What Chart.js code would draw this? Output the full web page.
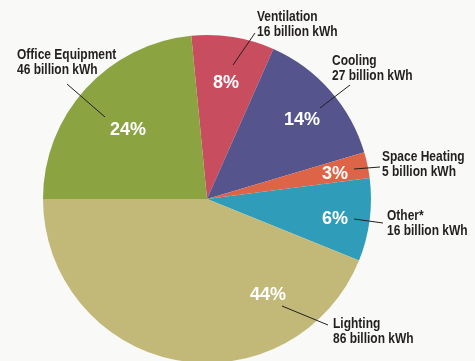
<!DOCTYPE html>
<html>
<head>
<meta charset="utf-8">
<script src="https://cdn.jsdelivr.net/npm/chart.js@4"></script>
<style>
    html, body { margin: 0; padding: 0; background: #f9f9f7; overflow: hidden; }
    #wrap { width: 475px; height: 370px; }
</style>
</head>
<body>
<div id="wrap"><canvas id="energyPie" width="475" height="370"></canvas></div>
<script>
// Office building electricity use by end use
const categories = ['Ventilation', 'Cooling', 'Space Heating', 'Other*', 'Lighting', 'Office Equipment'];
const usage = [16, 27, 5, 16, 86, 46]; // billion kWh
const shares = ['8%', '14%', '3%', '6%', '44%', '24%'];
const sliceColors = ['#c84e5f', '#55548c', '#de6448', '#2f9db9', '#c2b877', '#8ba341'];

// label placement, in px relative to the pie centre for a radius of 164
const shareOffsets = [[19, -117], [95, -80], [128, -26], [128, 19], [61, 95], [-79, -70]];
const leaderLines = [
    [[26, -134], [48, -166]],
    [[113, -91], [143, -114]],
    [[147, -30], [173, -32]],
    [[147, 20], [176, 24]],
    [[75, 107], [121, 126]],
    [[-140, -115], [-102, -82]],
];
const labelAnchors = [[50, -178], [125, -134], [175, -38], [180, 21], [126, 129], [-190, -140]];

const labelPlugin = {
    id: 'pieLabels',
    afterDatasetsDraw(chart) {
        const ctx = chart.ctx;
        const arc = chart.getDatasetMeta(0).data[0];
        const cx = arc.x, cy = arc.y;
        const k = arc.outerRadius / 164;
        ctx.save();

        // percentages inside the slices
        ctx.fillStyle = '#ffffff';
        ctx.font = 'bold 18px "Liberation Sans", Arial, sans-serif';
        ctx.textAlign = 'center';
        ctx.textBaseline = 'middle';
        shares.forEach((s, i) => {
            ctx.fillText(s, cx + shareOffsets[i][0] * k, cy + shareOffsets[i][1] * k + 1);
        });

        // leader lines
        ctx.strokeStyle = '#231f20';
        ctx.lineWidth = 1;
        leaderLines.forEach((l) => {
            ctx.beginPath();
            ctx.moveTo(cx + l[0][0] * k, cy + l[0][1] * k);
            ctx.lineTo(cx + l[1][0] * k, cy + l[1][1] * k);
            ctx.stroke();
        });

        // category names and amounts (condensed look by squeezing horizontally)
        ctx.fillStyle = '#231f20';
        ctx.font = 'bold 15px "Liberation Sans", Arial, sans-serif';
        ctx.textAlign = 'left';
        ctx.textBaseline = 'alphabetic';
        categories.forEach((c, i) => {
            const x = cx + labelAnchors[i][0] * k;
            const y = cy + labelAnchors[i][1] * k;
            ctx.save();
            ctx.translate(x, y);
            ctx.scale(0.8, 1);
            ctx.fillText(c, 0, 0);
            ctx.fillText(usage[i] + ' billion kWh', 0, 15);
            ctx.restore();
        });
        ctx.restore();
    }
};

const ctx = document.getElementById('energyPie').getContext('2d');
new Chart(ctx, {
    type: 'pie',
    data: {
        labels: categories,
        datasets: [{
            data: usage,
            backgroundColor: sliceColors,
            borderWidth: 0,
        }],
    },
    options: {
        responsive: false,
        animation: false,
        rotation: -5.5,
        layout: {
            padding: { left: 43, right: 104, top: 35, bottom: 7 },
        },
        plugins: {
            legend: { display: false },
            tooltip: { enabled: false },
        },
    },
    plugins: [labelPlugin],
});
</script>
</body>
</html>
